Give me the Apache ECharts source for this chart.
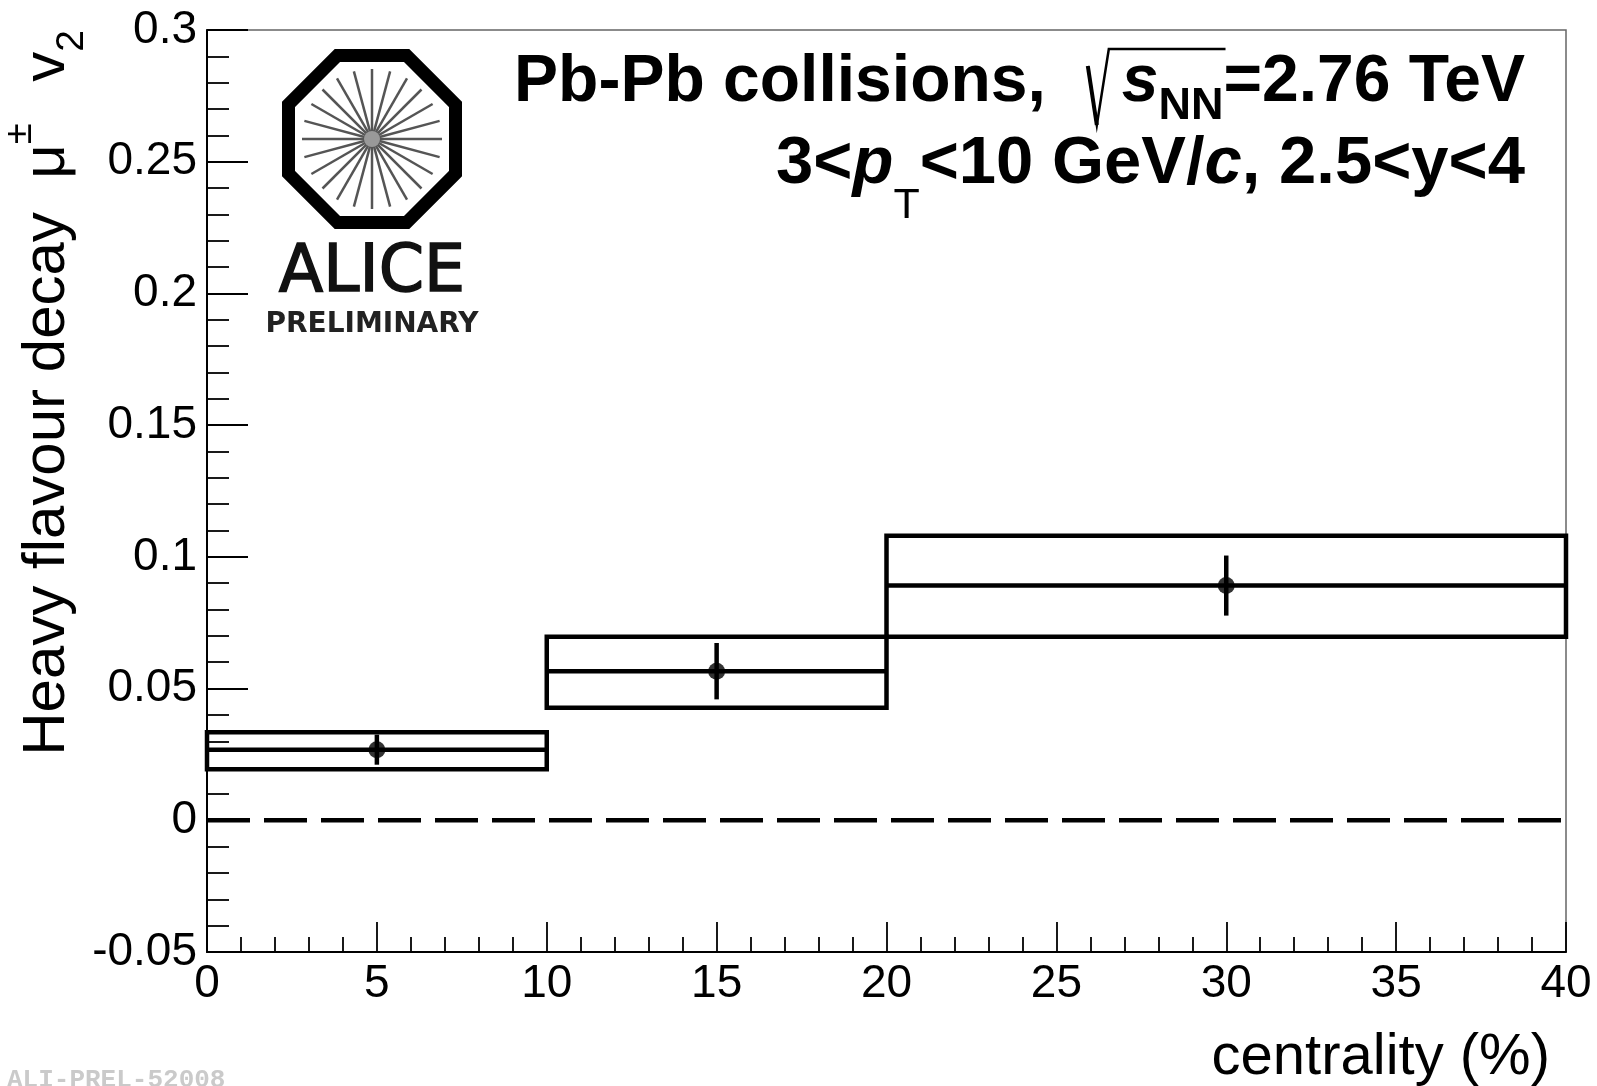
<!DOCTYPE html>
<html><head><meta charset="utf-8">
<script src="https://cdn.jsdelivr.net/npm/echarts@6/dist/echarts.min.js"></script>
<style>html,body{margin:0;padding:0;background:#fff}#c{width:1597px;height:1086px}</style>
</head><body><div id="c"></div>
<script>
// ---- data ----
const binLow    = [0, 10, 20];
const binHigh   = [10, 20, 40];
const binCenter = [5, 15, 30];
const v2        = [0.0268, 0.0566, 0.0891];
const statErr   = [0.0057, 0.0107, 0.0114];
const sysLow    = [0.0194, 0.0427, 0.0697];
const sysHigh   = [0.0334, 0.0697, 0.1080];
const zeroLine  = [[0, 0], [40, 0]];
const xRange    = [0, 40, 5];
const yRange    = [-0.05, 0.3, 0.05];

// ---- helpers for annotation text layout ----
const FF = '"Liberation Sans", Arial, sans-serif';
const mctx = document.createElement('canvas').getContext('2d');
function fstr(size, weight, italic) { return (italic ? 'italic ' : '') + weight + ' ' + size + 'px ' + FF; }
function measure(t, f) { mctx.font = f; return mctx.measureText(t).width; }
function layoutLine(pieces, xRight, baseline) {
  let total = 0;
  pieces.forEach(p => { p.font = fstr(p.size, p.weight || 'bold', p.italic); p.w = measure(p.t, p.font); total += p.w + (p.gap || 0); });
  let x = xRight - total;
  const els = [];
  pieces.forEach(p => {
    x += (p.gap || 0);
    p.x = x;
    els.push({ type: 'text', x: x, y: baseline + (p.dy || 0) - 0.3465 * p.size, z: 100,
      style: { text: p.t, font: p.font, fill: '#000', align: 'left', verticalAlign: 'middle' } });
    x += p.w;
  });
  return els;
}

const line1 = [
  { t: 'Pb-Pb collisions,', size: 66 },
  { t: 's', size: 66, italic: true, gap: 76 },
  { t: 'NN', size: 45, dy: 16 },
  { t: '=2.76 TeV', size: 66 }
];
const line2 = [
  { t: '3<', size: 67 },
  { t: 'p', size: 67, italic: true },
  { t: 'T', size: 43, weight: 'normal', dy: 33 },
  { t: '<10 GeV/', size: 67 },
  { t: 'c', size: 67, italic: true },
  { t: ', 2.5<y<4', size: 67 }
];
const b1 = 106, b2 = 188;
const gl = [].concat(layoutLine(line1, 1525, b1), layoutLine(line2, 1525, b2));
const sx = line1[1].x, nnEnd = line1[2].x + line1[2].w;
gl.push({ type: 'polyline', z: 100, shape: { points: [[sx - 34, b1 - 40], [sx - 25, b1 + 19], [sx - 13, b1 - 57], [nnEnd + 2, b1 - 57]] },
  style: { stroke: '#000', lineWidth: 2.5, fill: null } });
gl.push({ type: 'line', z: 100, shape: { x1: sx - 34, y1: b1 - 40, x2: sx - 25, y2: b1 + 19 }, style: { stroke: '#000', lineWidth: 4 } });

// ALICE logo
const cx = 372, cy = 139, Rin = 83.5 / Math.cos(Math.PI / 8);
const oct = [];
for (let k = 0; k < 8; k++) { const a = Math.PI / 8 + k * Math.PI / 4; oct.push([cx + Rin * Math.cos(a), cy + Rin * Math.sin(a)]); }
gl.push({ type: 'polygon', z: 100, shape: { points: oct }, style: { fill: 'none', stroke: '#000', lineWidth: 13, lineJoin: 'miter' } });
for (let k = 0; k < 24; k++) {
  const a = k * Math.PI / 12;
  gl.push({ type: 'line', z: 100, shape: { x1: cx + 3 * Math.cos(a), y1: cy + 3 * Math.sin(a), x2: cx + 70 * Math.cos(a), y2: cy + 70 * Math.sin(a) },
    style: { stroke: '#555', lineWidth: 2.5 } });
}
gl.push({ type: 'circle', z: 101, shape: { cx: cx, cy: cy, r: 8 }, style: { fill: '#999' } });
gl.push({ type: 'text', z: 100, x: cx, y: 274, style: { text: 'ALICE', font: 'normal 65px "DejaVu Sans"', fill: '#111', stroke: '#111', lineWidth: 1.5, align: 'center', verticalAlign: 'middle' } });
gl.push({ type: 'text', z: 100, x: cx, y: 325, style: { text: 'PRELIMINARY', font: 'bold 28px "DejaVu Sans"', fill: '#222', align: 'center', verticalAlign: 'middle' } });

// axis titles
gl.push({ type: 'text', z: 100, x: 1550, y: 1078 - 0.3465 * 58,
  style: { text: 'centrality (%)', font: fstr(58, 'normal'), fill: '#000', align: 'right', verticalAlign: 'middle' } });
gl.push({ type: 'text', z: 100, x: 47, y: 30, rotation: Math.PI / 2,
  style: { text: '{a|Heavy flavour decay  μ}{s|±}{a|  }{sp| }{a|v}{b|2}', align: 'right', verticalAlign: 'middle',
    rich: {
      a: { fontFamily: FF, fontSize: 60, lineHeight: 90, verticalAlign: 'middle', fill: '#000' },
      sp: { fontFamily: FF, fontSize: 30, lineHeight: 30, verticalAlign: 'middle', fill: '#000' },
      s: { fontFamily: FF, fontSize: 38, lineHeight: 69, verticalAlign: 'top', fill: '#000' },
      b: { fontFamily: FF, fontSize: 39, lineHeight: 36, verticalAlign: 'bottom', fill: '#000' }
    } } });
// watermark
gl.push({ type: 'text', z: 100, x: 7, y: 1080,
  style: { text: 'ALI-PREL-52008', font: 'bold 26px "Liberation Mono", monospace', fill: '#cacaca', align: 'left', verticalAlign: 'middle' } });

// ---- chart ----
const boxData = binLow.map((l, i) => [l, binHigh[i], sysLow[i], sysHigh[i], v2[i]]);
const errData = binCenter.map((x, i) => [x, v2[i] - statErr[i], v2[i] + statErr[i]]);
const ptData  = binCenter.map((x, i) => [x, v2[i]]);

const axisCommon = {
  axisLine: { show: true, onZero: false, lineStyle: { color: '#000', width: 2 } },
  splitLine: { show: false },
  axisLabel: { fontSize: 46, fontFamily: FF, color: '#000', showMinLabel: true, showMaxLabel: true }
};
const chart = echarts.init(document.getElementById('c'), null, { renderer: 'canvas' });
chart.setOption({
  animation: false,
  backgroundColor: '#fff',
  grid: { left: 207, right: 31, top: 30, bottom: 134, show: true, borderColor: '#666', borderWidth: 1.5, containLabel: false, outerBoundsMode: 'none' },
  xAxis: Object.assign({}, axisCommon, {
    type: 'value', min: xRange[0], max: xRange[1], interval: xRange[2],
    axisTick: { show: true, inside: true, length: 30, lineStyle: { color: '#000', width: 1.8 } },
    minorTick: { show: true, splitNumber: 5, length: 15, lineStyle: { color: '#000', width: 1.8 } },
    axisLabel: Object.assign({}, axisCommon.axisLabel, { margin: 9 })
  }),
  yAxis: Object.assign({}, axisCommon, {
    type: 'value', min: yRange[0], max: yRange[1], interval: yRange[2],
    axisTick: { show: true, inside: true, length: 41, lineStyle: { color: '#000', width: 1.8 } },
    minorTick: { show: true, splitNumber: 5, length: 22, lineStyle: { color: '#000', width: 1.8 } },
    axisLabel: Object.assign({}, axisCommon.axisLabel, { margin: 10, formatter: v => String(Math.round(v * 100) / 100) })
  }),
  series: [
    { type: 'line', data: zeroLine, symbol: 'none', silent: true, z: 2,
      lineStyle: { color: '#000', width: 4.5, type: [43, 14] } },
    { type: 'custom', data: boxData, z: 3, encode: { x: [0, 1], y: [2, 3] },
      renderItem: (params, api) => {
        const p1 = api.coord([api.value(0), api.value(3)]);
        const p2 = api.coord([api.value(1), api.value(2)]);
        const c1 = api.coord([api.value(0), api.value(4)]);
        const c2 = api.coord([api.value(1), api.value(4)]);
        return { type: 'group', children: [
          { type: 'rect', shape: { x: p1[0], y: p1[1], width: p2[0] - p1[0], height: p2[1] - p1[1] }, style: { fill: 'none', stroke: '#000', lineWidth: 4.5 } },
          { type: 'line', shape: { x1: c1[0], y1: c1[1], x2: c2[0], y2: c2[1] }, style: { stroke: '#000', lineWidth: 4.5 } }
        ] };
      } },
    { type: 'custom', data: errData, z: 4, encode: { x: 0, y: [1, 2] },
      renderItem: (params, api) => {
        const a = api.coord([api.value(0), api.value(1)]);
        const b = api.coord([api.value(0), api.value(2)]);
        return { type: 'line', shape: { x1: a[0], y1: a[1], x2: b[0], y2: b[1] }, style: { stroke: '#000', lineWidth: 4.5 } };
      } },
    { type: 'scatter', data: ptData, z: 5, symbol: 'circle', symbolSize: 17, itemStyle: { color: '#000' } }
  ],
  graphic: gl
});
</script></body></html>
